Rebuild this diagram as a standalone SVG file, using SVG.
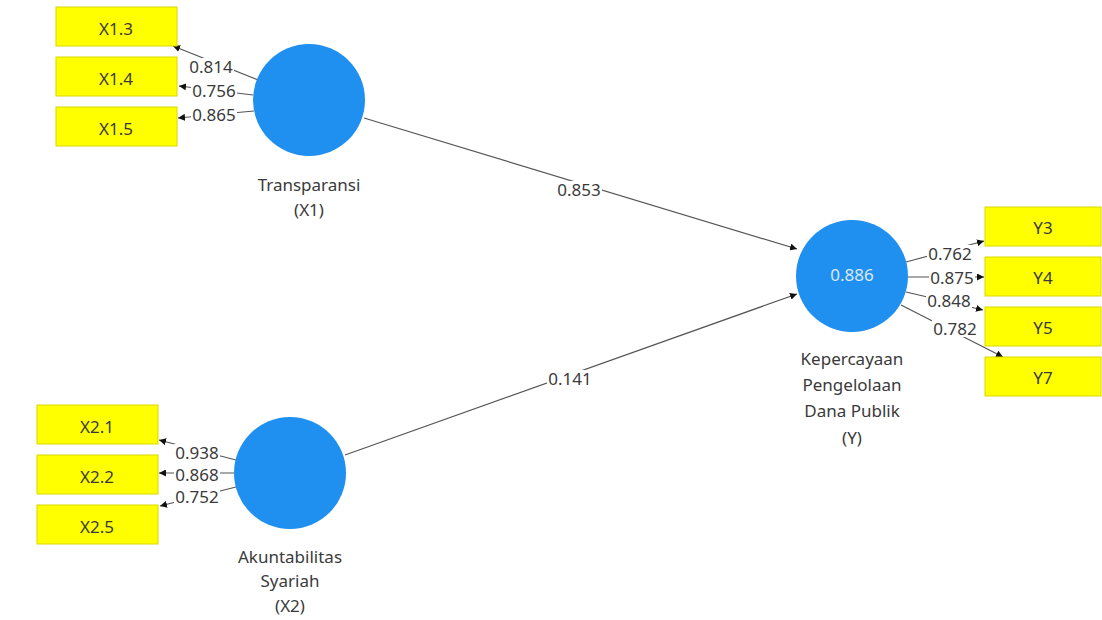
<svg xmlns="http://www.w3.org/2000/svg" width="1102" height="620" viewBox="0 0 1102 620">
<style>
  text { font-family: "Noto Sans", "Open Sans", sans-serif; font-size: 17px; fill: #3a3a3a; text-anchor: middle; dominant-baseline: central; }
  .box { fill: #ffff00; stroke: #d8d800; stroke-width: 1; }
  .lv { fill: #1f8ff0; }
  .lvval { fill: #dde8f5; }
  .edge { stroke: #555; stroke-width: 1.2; fill: none; marker-end: url(#arr); }
  .bg { fill: #fff; }
</style>
<defs>
  <marker id="arr" viewBox="0 0 10 10" refX="10" refY="5" markerWidth="7" markerHeight="7" markerUnits="userSpaceOnUse" orient="auto">
    <path d="M0,0 L10,5 L0,10 z" fill="#111"/>
  </marker>
</defs>
<rect width="1102" height="620" fill="#fff"/>
<g id="connectors">
  <line class="edge" x1="258" y1="80" x2="173" y2="46"/>
  <line class="edge" x1="253" y1="95" x2="179" y2="86"/>
  <line class="edge" x1="254" y1="111" x2="178" y2="118"/>
  <line class="edge" x1="236" y1="460" x2="159" y2="440"/>
  <line class="edge" x1="234" y1="473" x2="159" y2="473"/>
  <line class="edge" x1="236" y1="487" x2="160" y2="506"/>
  <line class="edge" x1="906" y1="262" x2="984" y2="241"/>
  <line class="edge" x1="908" y1="277" x2="984" y2="277"/>
  <line class="edge" x1="906" y1="292" x2="983" y2="310"/>
  <line class="edge" x1="901" y1="305" x2="1003" y2="357"/>
  <line class="edge" x1="364" y1="118" x2="797" y2="249"/>
  <line class="edge" x1="345" y1="455" x2="797" y2="294"/>
  <g class="bg">
    <rect x="188" y="58" width="46" height="17"/>
    <rect x="191" y="82" width="46" height="17"/>
    <rect x="191" y="106" width="46" height="17"/>
    <rect x="174" y="444" width="46" height="17"/>
    <rect x="174" y="466" width="46" height="17"/>
    <rect x="174" y="488" width="46" height="17"/>
    <rect x="927" y="245" width="46" height="17"/>
    <rect x="929" y="269" width="46" height="17"/>
    <rect x="926" y="292" width="46" height="17"/>
    <rect x="932" y="320" width="46" height="17"/>
    <rect x="556" y="181" width="46" height="17"/>
    <rect x="547" y="370" width="46" height="17"/>
  </g>
  <text x="211" y="66">0.814</text>
  <text x="214" y="90">0.756</text>
  <text x="214" y="114">0.865</text>
  <text x="197" y="452">0.938</text>
  <text x="197" y="474">0.868</text>
  <text x="197" y="496">0.752</text>
  <text x="950" y="253">0.762</text>
  <text x="952" y="277">0.875</text>
  <text x="949" y="300">0.848</text>
  <text x="955" y="328">0.782</text>
  <text x="579" y="189">0.853</text>
  <text x="570" y="378">0.141</text>
</g>
<g id="X1.3"><rect class="box" x="56" y="7" width="121" height="39"/><text x="116" y="28">X1.3</text></g>
<g id="X1.4"><rect class="box" x="56" y="57" width="121" height="39"/><text x="116" y="78">X1.4</text></g>
<g id="X1.5"><rect class="box" x="56" y="107" width="121" height="39"/><text x="116" y="128">X1.5</text></g>
<g id="X2.1"><rect class="box" x="37" y="405" width="121" height="39"/><text x="97" y="426">X2.1</text></g>
<g id="X2.2"><rect class="box" x="37" y="455" width="121" height="39"/><text x="97" y="476">X2.2</text></g>
<g id="X2.5"><rect class="box" x="37" y="505" width="121" height="39"/><text x="97" y="526">X2.5</text></g>
<g id="Y3"><rect class="box" x="985" y="207" width="116" height="39"/><text x="1043" y="227">Y3</text></g>
<g id="Y4"><rect class="box" x="985" y="257" width="116" height="39"/><text x="1043" y="277">Y4</text></g>
<g id="Y5"><rect class="box" x="985" y="307" width="116" height="39"/><text x="1043" y="327">Y5</text></g>
<g id="Y7"><rect class="box" x="985" y="357" width="116" height="39"/><text x="1043" y="377">Y7</text></g>
<g id="X1">
  <circle class="lv" cx="309" cy="100" r="56"/>
  <text x="309" y="184">Transparansi</text>
  <text x="309" y="209">(X1)</text>
</g>
<g id="X2">
  <circle class="lv" cx="290" cy="473" r="56"/>
  <text x="290" y="556">Akuntabilitas</text>
  <text x="290" y="580">Syariah</text>
  <text x="290" y="605">(X2)</text>
</g>
<g id="Y">
  <circle class="lv" cx="852" cy="276" r="56"/>
  <text class="lvval" x="852" y="274">0.886</text>
  <text x="852" y="358">Kepercayaan</text>
  <text x="852" y="384">Pengelolaan</text>
  <text x="852" y="410">Dana Publik</text>
  <text x="852" y="437">(Y)</text>
</g>
</svg>
